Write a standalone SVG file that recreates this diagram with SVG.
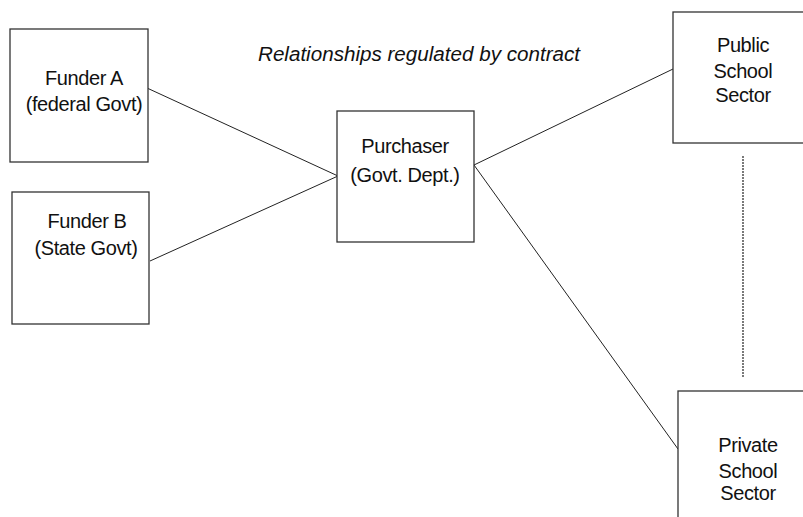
<svg xmlns="http://www.w3.org/2000/svg" width="803" height="517" viewBox="0 0 803 517">
<style>
.box{fill:#fff;stroke:#333;stroke-width:1.3}
.t{font-family:"Liberation Sans",Arial,sans-serif;font-size:20px;fill:#111;text-anchor:middle;letter-spacing:-0.4px}
.c{stroke:#222;stroke-width:1;fill:none}
</style>
<rect width="803" height="517" fill="#fff"/>
<g id="connectors">
<line class="c" x1="147" y1="88" x2="338" y2="176"/>
<line class="c" x1="150" y1="261" x2="338" y2="176"/>
<line class="c" x1="474" y1="165" x2="673" y2="69"/>
<line class="c" x1="474" y1="165" x2="678" y2="449"/>
<line x1="743" y1="156" x2="743" y2="377" stroke="#333" stroke-dasharray="2 1" stroke-width="1.3"/>
</g>
<g id="funderA">
<rect class="box" x="10" y="29" width="138" height="133"/>
<text class="t" x="84" y="85">Funder A</text>
<text class="t" x="84" y="111">(federal Govt)</text>
</g>
<g id="funderB">
<rect class="box" x="12" y="192" width="137" height="132"/>
<text class="t" x="87" y="228">Funder B</text>
<text class="t" x="86" y="255">(State Govt)</text>
</g>
<g id="purchaser">
<rect class="box" x="337" y="111" width="137" height="131"/>
<text class="t" x="405" y="153">Purchaser</text>
<text class="t" x="405" y="182">(Govt. Dept.)</text>
</g>
<g id="public">
<rect class="box" x="673" y="12" width="140" height="131"/>
<text class="t" x="743" y="52">Public</text>
<text class="t" x="743" y="78">School</text>
<text class="t" x="743" y="102">Sector</text>
</g>
<g id="private">
<rect class="box" x="678" y="391" width="140" height="140"/>
<text class="t" x="748" y="452">Private</text>
<text class="t" x="748" y="478">School</text>
<text class="t" x="748" y="500">Sector</text>
</g>
<g id="title">
<text x="258" y="61" font-family="Liberation Sans, Arial, sans-serif" font-size="19.5" font-style="italic" fill="#111" textLength="322" lengthAdjust="spacingAndGlyphs">Relationships regulated by contract</text>
</g>
</svg>
